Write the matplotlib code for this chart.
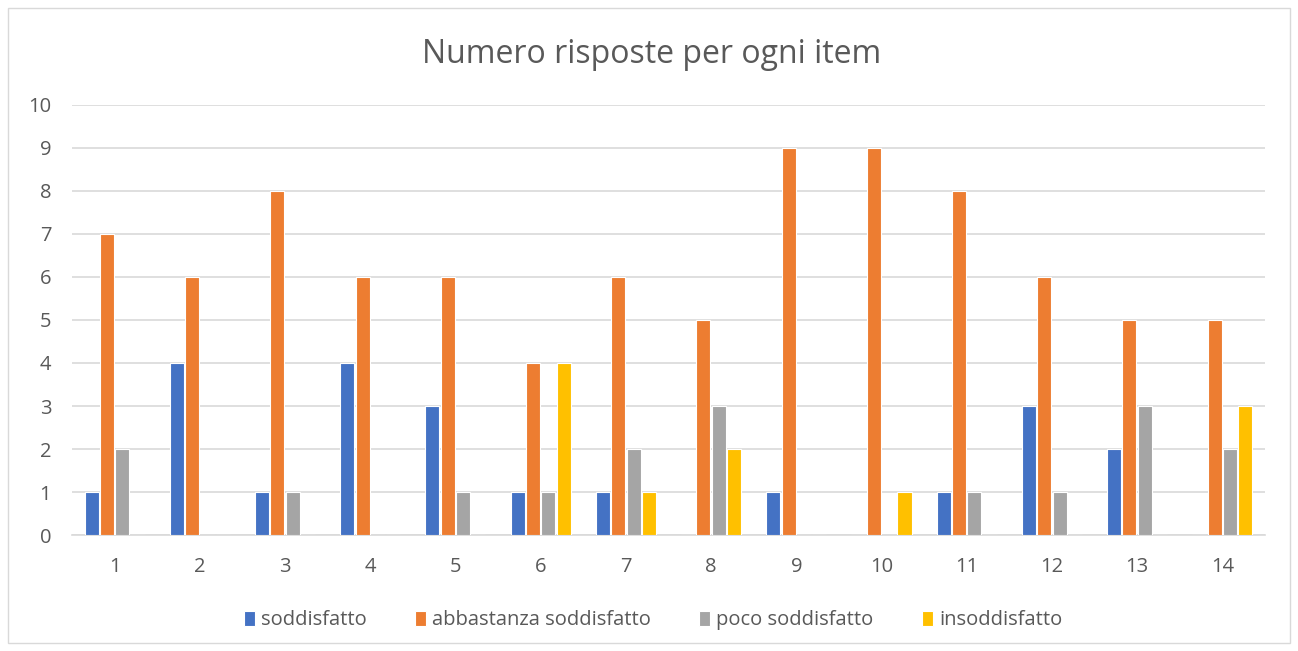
import matplotlib
matplotlib.use("Agg")
import matplotlib.pyplot as plt
from matplotlib.patches import Rectangle
import numpy as np

items = [str(i) for i in range(1, 15)]
soddisfatto = [1, 4, 1, 4, 3, 1, 1, 0, 1, 0, 1, 3, 2, 0]
abbastanza = [7, 6, 8, 6, 6, 4, 6, 5, 9, 9, 8, 6, 5, 5]
poco = [2, 0, 1, 0, 1, 1, 2, 3, 0, 0, 1, 1, 3, 2]
insoddisfatto = [0, 0, 0, 0, 0, 4, 1, 2, 0, 1, 0, 0, 0, 3]
series_names = ["soddisfatto", "abbastanza soddisfatto", "poco soddisfatto", "insoddisfatto"]
colors = ["#4472C4", "#ED7D31", "#A5A5A5", "#FFC000"]
yticks = list(range(0, 11))

plt.rcParams['font.family'] = ['Open Sans', 'DejaVu Sans']

fig = plt.figure(figsize=(12.98, 6.51), dpi=100)
ax = fig.add_axes([0.0555, 0.178, 0.919, 0.661])

x = np.arange(len(items))
step = 0.18
width = 0.165
series = [soddisfatto, abbastanza, poco, insoddisfatto]
for i, (vals, c, name) in enumerate(zip(series, colors, series_names)):
    ax.bar(x + (i - 1.5) * step, vals, width=width, color=c, label=name,
           edgecolor="white", linewidth=0.8, zorder=3)

ax.set_xlim(-0.5, len(items) - 0.5)
ax.set_ylim(0, 10)
ax.set_yticks(yticks)
ax.set_xticks(x)
ax.set_xticklabels(items)
ax.grid(axis='y', color="#D9D9D9", linewidth=1.2, zorder=0)
for s in ["top", "right", "left"]:
    ax.spines[s].set_visible(False)
ax.spines["bottom"].set_color("#D9D9D9")
ax.spines["bottom"].set_linewidth(1.2)
ax.tick_params(axis='both', length=0, labelsize=14.5, labelcolor="#595959")
ax.tick_params(axis='x', pad=16)
ax.tick_params(axis='y', pad=15)

fig.text(0.502, 0.917, "Numero risposte per ogni item", ha='center', va='center',
         fontsize=23, color="#595959")

leg = fig.legend(loc='center', bbox_to_anchor=(0.503, 0.047), ncol=4, frameon=False,
                 fontsize=14.5, handlelength=0.55, handleheight=0.8, handletextpad=0.3,
                 columnspacing=2.4)
for t in leg.get_texts():
    t.set_color("#595959")

fig.patches.append(Rectangle((8/1298, 8/651), 1282/1298, 635/651, transform=fig.transFigure,
                             fill=False, edgecolor="#D9D9D9", linewidth=1))

fig.savefig("out.png", dpi=100, facecolor="white")
